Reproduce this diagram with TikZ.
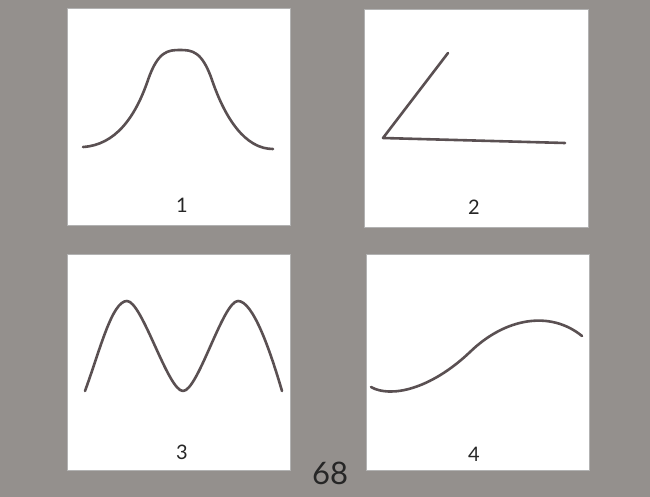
\documentclass[tikz,border=0pt]{standalone}
\usepackage{fontspec}
\setmainfont{Lato}
\usepackage{tikz}
\usetikzlibrary{positioning}
\definecolor{bggray}{RGB}{148,144,141}
\definecolor{inkbrown}{RGB}{90,80,82}
\begin{document}
\begin{tikzpicture}[x=1pt,y=-1pt,
    panel/.style={fill=white, draw=black!30, line width=0.6pt},
    curve/.style={draw=inkbrown, line width=2.6pt, line cap=round, line join=round},
    num/.style={font=\fontsize{20}{20}\selectfont, text=black!85, inner sep=0pt}
    ]
    \fill[bggray] (0,0) rectangle (650,497);
    \useasboundingbox (0,0) rectangle (650,497);
    % the four panels
    \path[panel] (67,8) rectangle (290,225);
    \path[panel] (364,9) rectangle (588,227);
    \path[panel] (67,254) rectangle (290,470);
    \path[panel] (366,254) rectangle (589,470);
    % panel numbers
    \node[num] (n1) at (182,205) {1};
    \node[num] (n2) at (474,207) {2};
    \node[num] (n3) at (182,452) {3};
    \node[num] (n4) at (474,454) {4};
    \node[num, font=\fontsize{31}{31}\selectfont] (pg) at (330,473) {68};
    % bell curve
    \draw[curve] (83,147) .. controls (115,145) and (135,118) .. (148,80)
        .. controls (158,51) and (168,50) .. (180,50)
        .. controls (192,50) and (202,51) .. (212,80)
        .. controls (225,118) and (245,149) .. (273,149);
    % angle
    \coordinate (a1) at (448,53);
    \coordinate (a0) at (383,138);
    \coordinate (a2) at (565,143);
    \draw[curve] (a1) -- (a0) -- (a2);
    % two humps
    \draw[curve] (85,391) .. controls (100,350) and (112,301) .. (127,301)
        .. controls (142,301) and (168,391) .. (183,391)
        .. controls (198,391) and (223,301) .. (238,301)
        .. controls (253,301) and (270,350) .. (282,391);
    % s-curve
    \draw[curve] (371,387) .. controls (390,398) and (430,390) .. (470,352)
        .. controls (505,318) and (550,310) .. (582,336);
\end{tikzpicture}
\end{document}
